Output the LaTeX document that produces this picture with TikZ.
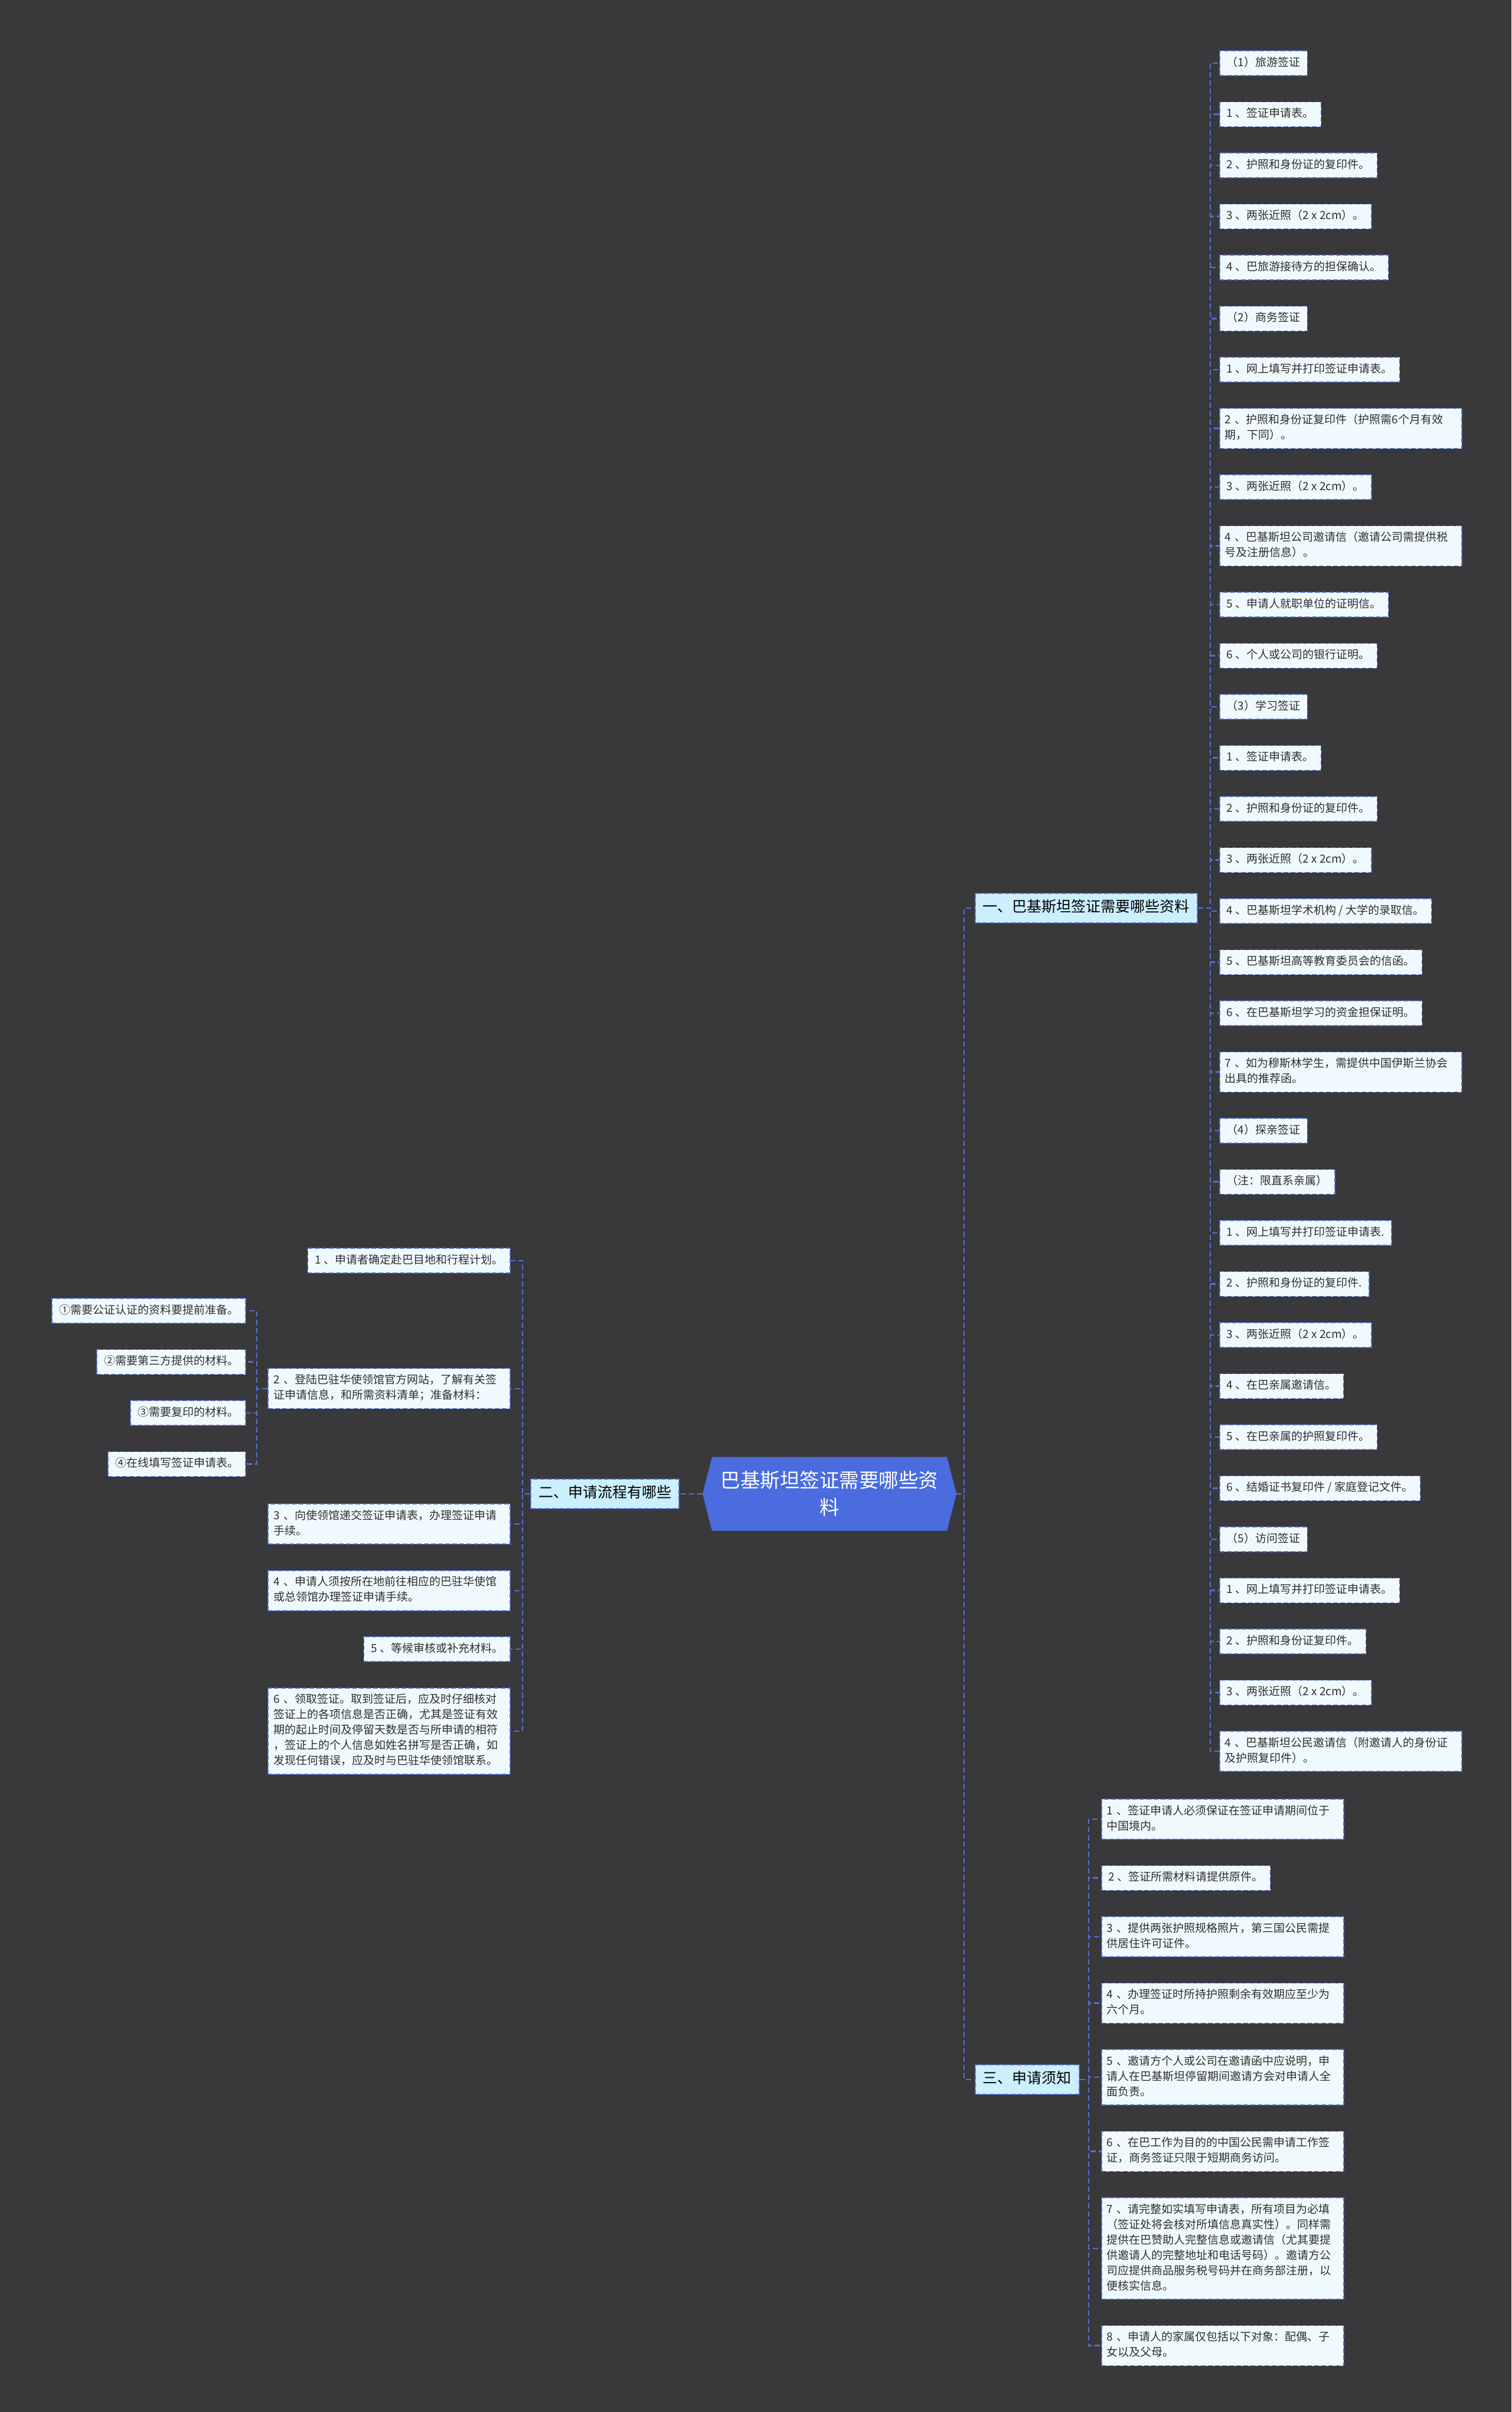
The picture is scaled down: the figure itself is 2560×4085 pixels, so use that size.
\documentclass[tikz,border=0pt]{standalone}
\usepackage{fontspec}
\newfontfamily\cjk{Noto Sans CJK SC}
\usetikzlibrary{positioning}

\definecolor{bgdark}{HTML}{39383A}
\definecolor{linkblue}{HTML}{5470D6}
\definecolor{rootblue}{HTML}{4A6CDE}
\definecolor{topicfill}{HTML}{CCEFFD}
\definecolor{leaffill}{HTML}{F0FAFE}
\definecolor{leaftext}{HTML}{2E2E2E}

\tikzset{
  link/.style={linkblue, line width=2.2pt, dash pattern=on 9pt off 5pt},
  root/.style={rectangle, inner sep=0pt, minimum width=430pt, minimum height=125pt,
    text=white, align=center, font=\cjk\fontsize{33.5}{46}\selectfont},
  topic/.style={draw=linkblue, fill=topicfill, line width=1.6pt, dash pattern=on 8pt off 4pt,
    inner xsep=13pt, inner ysep=8pt, text=black, font=\cjk\fontsize{25}{34}\selectfont,
    execute at begin node=\strut},
  leaf/.style={draw=linkblue, fill=leaffill, line width=1.6pt, dash pattern=on 8pt off 4pt,
    inner xsep=12pt, inner ysep=8pt, text=leaftext, align=left,
    font=\cjk\fontsize{19}{26}\selectfont,
    execute at begin node=\strut, execute at end node=\strut},
  leafwide/.style={leaf, inner xsep=9pt, text width=392pt},
}

\begin{document}
\begin{tikzpicture}[x=1pt, y=-1pt]
    % --- 参数 ---
    \def\gap{42.9pt}   % 同级节点之间的间距
    \def\rx{1405}      % 中心节点位置
    \def\ry{2530}
    \def\rw{215}       % 中心节点半宽
    \def\rh{62.5}      % 中心节点半高
    \def\rt{16}        % 两侧尖角的宽度

    % --- 背景 ---
    \fill[bgdark] (0,0) rectangle (2560,4085);

    % --- 中心节点 ---
    \fill[rootblue] (\rx-\rw,\ry) -- (\rx-\rw+\rt,\ry-\rh) -- (\rx+\rw-\rt,\ry-\rh)
        -- (\rx+\rw,\ry) -- (\rx+\rw-\rt,\ry+\rh) -- (\rx-\rw+\rt,\ry+\rh) -- cycle;
    \node[root] (root) at (\rx,\ry) {巴基斯坦签证需要哪些资\\料};

    % --- 一级分支 ---
    \node[topic, anchor=west] (yi) at (1651,1538) {一、巴基斯坦签证需要哪些资料};
    \node[topic, anchor=east] (er) at (1151,2530) {二、申请流程有哪些};
    \node[topic, anchor=west] (san) at (1651,3522) {三、申请须知};

    % --- 一、所需资料 (右列) ---
    \node[leaf, anchor=west] (a1) at (2065,107) {（1）旅游签证};
    \node[leaf, below=\gap of a1.south west, anchor=north west] (a2) {1 、签证申请表。};
    \node[leaf, below=\gap of a2.south west, anchor=north west] (a3) {2 、护照和身份证的复印件。};
    \node[leaf, below=\gap of a3.south west, anchor=north west] (a4) {3 、两张近照（2 x 2cm）。};
    \node[leaf, below=\gap of a4.south west, anchor=north west] (a5) {4 、巴旅游接待方的担保确认。};
    \node[leaf, below=\gap of a5.south west, anchor=north west] (a6) {（2）商务签证};
    \node[leaf, below=\gap of a6.south west, anchor=north west] (a7) {1 、网上填写并打印签证申请表。};
    \node[leafwide, below=\gap of a7.south west, anchor=north west] (a8) {2 、护照和身份证复印件（护照需6个月有效\\期，下同）。};
    \node[leaf, below=\gap of a8.south west, anchor=north west] (a9) {3 、两张近照（2 x 2cm）。};
    \node[leafwide, below=\gap of a9.south west, anchor=north west] (a10) {4 、巴基斯坦公司邀请信（邀请公司需提供税\\号及注册信息）。};
    \node[leaf, below=\gap of a10.south west, anchor=north west] (a11) {5 、申请人就职单位的证明信。};
    \node[leaf, below=\gap of a11.south west, anchor=north west] (a12) {6 、个人或公司的银行证明。};
    \node[leaf, below=\gap of a12.south west, anchor=north west] (a13) {（3）学习签证};
    \node[leaf, below=\gap of a13.south west, anchor=north west] (a14) {1 、签证申请表。};
    \node[leaf, below=\gap of a14.south west, anchor=north west] (a15) {2 、护照和身份证的复印件。};
    \node[leaf, below=\gap of a15.south west, anchor=north west] (a16) {3 、两张近照（2 x 2cm）。};
    \node[leaf, below=\gap of a16.south west, anchor=north west] (a17) {4 、巴基斯坦学术机构 / 大学的录取信。};
    \node[leaf, below=\gap of a17.south west, anchor=north west] (a18) {5 、巴基斯坦高等教育委员会的信函。};
    \node[leaf, below=\gap of a18.south west, anchor=north west] (a19) {6 、在巴基斯坦学习的资金担保证明。};
    \node[leafwide, below=\gap of a19.south west, anchor=north west] (a20) {7 、如为穆斯林学生，需提供中国伊斯兰协会\\出具的推荐函。};
    \node[leaf, below=\gap of a20.south west, anchor=north west] (a21) {（4）探亲签证};
    \node[leaf, below=\gap of a21.south west, anchor=north west] (a22) {（注：限直系亲属）};
    \node[leaf, below=\gap of a22.south west, anchor=north west] (a23) {1 、网上填写并打印签证申请表.};
    \node[leaf, below=\gap of a23.south west, anchor=north west] (a24) {2 、护照和身份证的复印件.};
    \node[leaf, below=\gap of a24.south west, anchor=north west] (a25) {3 、两张近照（2 x 2cm）。};
    \node[leaf, below=\gap of a25.south west, anchor=north west] (a26) {4 、在巴亲属邀请信。};
    \node[leaf, below=\gap of a26.south west, anchor=north west] (a27) {5 、在巴亲属的护照复印件。};
    \node[leaf, below=\gap of a27.south west, anchor=north west] (a28) {6 、结婚证书复印件 / 家庭登记文件。};
    \node[leaf, below=\gap of a28.south west, anchor=north west] (a29) {（5）访问签证};
    \node[leaf, below=\gap of a29.south west, anchor=north west] (a30) {1 、网上填写并打印签证申请表。};
    \node[leaf, below=\gap of a30.south west, anchor=north west] (a31) {2 、护照和身份证复印件。};
    \node[leaf, below=\gap of a31.south west, anchor=north west] (a32) {3 、两张近照（2 x 2cm）。};
    \node[leafwide, below=\gap of a32.south west, anchor=north west] (a33) {4 、巴基斯坦公民邀请信（附邀请人的身份证\\及护照复印件）。};

    % --- 二、申请流程 (左列) ---
    \node[leaf, anchor=east] (b1) at (865,2135) {1 、申请者确定赴巴目地和行程计划。};
    \node[leafwide, below=160pt of b1.south east, anchor=north east] (b2) {2 、登陆巴驻华使领馆官方网站，了解有关签\\证申请信息，和所需资料清单；准备材料：};
    \node[leafwide, below=160pt of b2.south east, anchor=north east] (b3) {3 、向使领馆递交签证申请表，办理签证申请\\手续。};
    \node[leafwide, below=\gap of b3.south east, anchor=north east] (b4) {4 、申请人须按所在地前往相应的巴驻华使馆\\或总领馆办理签证申请手续。};
    \node[leaf, below=\gap of b4.south east, anchor=north east] (b5) {5 、等候审核或补充材料。};
    \node[leafwide, below=\gap of b5.south east, anchor=north east] (b6) {6 、领取签证。取到签证后，应及时仔细核对\\签证上的各项信息是否正确，尤其是签证有效\\期的起止时间及停留天数是否与所申请的相符\\，签证上的个人信息如姓名拼写是否正确，如\\发现任何错误，应及时与巴驻华使领馆联系。};

    % 准备材料的分项
    \node[leaf, anchor=east] (c1) at (417,2220) {①需要公证认证的资料要提前准备。};
    \node[leaf, below=\gap of c1.south east, anchor=north east] (c2) {②需要第三方提供的材料。};
    \node[leaf, below=\gap of c2.south east, anchor=north east] (c3) {③需要复印的材料。};
    \node[leaf, below=\gap of c3.south east, anchor=north east] (c4) {④在线填写签证申请表。};

    % --- 三、申请须知 (右下) ---
    \node[leafwide, anchor=west] (d1) at (1865,3081) {1 、签证申请人必须保证在签证申请期间位于\\中国境内。};
    \node[leaf, below=\gap of d1.south west, anchor=north west] (d2) {2 、签证所需材料请提供原件。};
    \node[leafwide, below=\gap of d2.south west, anchor=north west] (d3) {3 、提供两张护照规格照片，第三国公民需提\\供居住许可证件。};
    \node[leafwide, below=\gap of d3.south west, anchor=north west] (d4) {4 、办理签证时所持护照剩余有效期应至少为\\六个月。};
    \node[leafwide, below=\gap of d4.south west, anchor=north west] (d5) {5 、邀请方个人或公司在邀请函中应说明，申\\请人在巴基斯坦停留期间邀请方会对申请人全\\面负责。};
    \node[leafwide, below=\gap of d5.south west, anchor=north west] (d6) {6 、在巴工作为目的的中国公民需申请工作签\\证，商务签证只限于短期商务访问。};
    \node[leafwide, below=\gap of d6.south west, anchor=north west] (d7) {7 、请完整如实填写申请表，所有项目为必填\\（签证处将会核对所填信息真实性）。同样需\\提供在巴赞助人完整信息或邀请信（尤其要提\\供邀请人的完整地址和电话号码）。邀请方公\\司应提供商品服务税号码并在商务部注册，以\\便核实信息。};
    \node[leafwide, below=\gap of d7.south west, anchor=north west] (d8) {8 、申请人的家属仅包括以下对象：配偶、子\\女以及父母。};

    % --- 连线 (竖向主干的横坐标) ---
    \coordinate (tr) at (1633,0);
    \coordinate (ta) at (2050,0);
    \coordinate (tb) at (885,0);
    \coordinate (tc) at (435,0);
    \coordinate (td) at (1844,0);

    \draw[link] (root.east) -- (root.east -| tr) |- (yi.west);
    \draw[link] (root.east) -- (root.east -| tr) |- (san.west);
    \draw[link] (root.west) -- (er.east);
    \foreach \i in {1,...,33}
        \draw[link] (yi.east) -- (yi.east -| ta) |- (a\i.west);
    \foreach \i in {1,...,6}
        \draw[link] (er.west) -- (er.west -| tb) |- (b\i.east);
    \foreach \i in {1,...,4}
        \draw[link] (b2.west) -- (b2.west -| tc) |- (c\i.east);
    \foreach \i in {1,...,8}
        \draw[link] (san.east) -- (san.east -| td) |- (d\i.west);

\end{tikzpicture}
\end{document}
